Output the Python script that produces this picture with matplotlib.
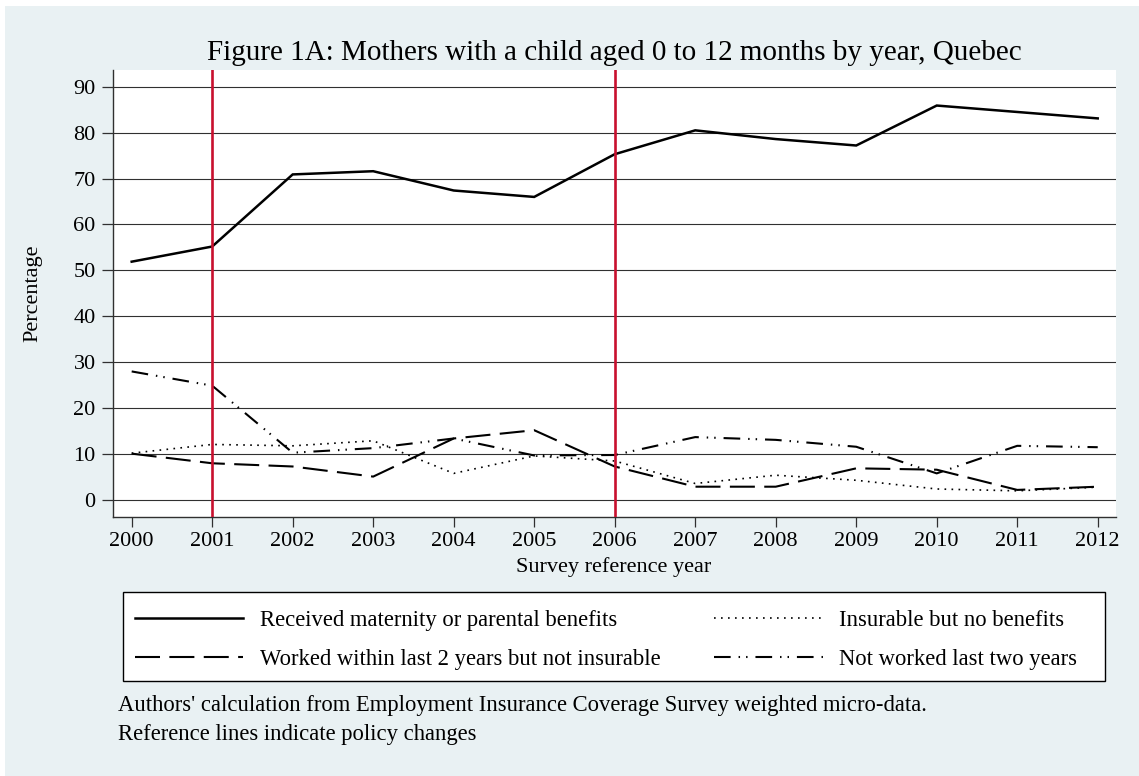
import matplotlib
matplotlib.use("Agg")
import matplotlib.pyplot as plt
from matplotlib.patches import Rectangle

plt.rcParams['font.family'] = ['Liberation Serif', 'DejaVu Serif']

years = [2000, 2001, 2002, 2003, 2004, 2005, 2006, 2007, 2008, 2009, 2010, 2011, 2012]
received = [51.9, 55.2, 70.9, 71.6, 67.4, 66.0, 75.3, 80.5, 78.6, 77.2, 85.9, 84.5, 83.1]
insurable_no_ben = [10.2, 12.1, 11.8, 12.9, 5.8, 9.6, 8.5, 3.6, 5.4, 4.3, 2.4, 2.0, 2.8]
worked_not_ins = [10.1, 8.0, 7.3, 5.1, 13.4, 15.2, 7.3, 2.9, 2.9, 6.9, 6.6, 2.2, 2.9]
not_worked = [28.0, 24.9, 10.3, 11.3, 13.4, 9.7, 9.8, 13.7, 13.1, 11.6, 5.8, 11.8, 11.5]
policy_years = [2001, 2006]

labels = ["Received maternity or parental benefits",
          "Insurable but no benefits",
          "Worked within last 2 years but not insurable",
          "Not worked last two years"]

W, H = 1139, 776
fig = plt.figure(figsize=(W / 100, H / 100), dpi=100, facecolor='white')
fig.patches.append(Rectangle((5 / W, 0), 1 - 5 / W, 1 - 6 / H, transform=fig.transFigure,
                             facecolor='#e9f1f3', edgecolor='none', zorder=-10))

ax = fig.add_axes([113 / W, 1 - 516.5 / H, (1116 - 113) / W, (516.5 - 70) / H])
ax.set_facecolor('white')

for y in range(0, 91, 10):
    ax.axhline(y, color='#303030', lw=0.8, zorder=1)

l1, = ax.plot(years, received, color='black', lw=1.8, zorder=2, solid_joinstyle='miter')
l2, = ax.plot(years, insurable_no_ben, color='black', lw=1.2, zorder=2,
              linestyle=(0, (1.0, 3.2)))
l3, = ax.plot(years, worked_not_ins, color='black', lw=1.5, zorder=2,
              linestyle=(0, (12, 4.5)))
l4, = ax.plot(years, not_worked, color='black', lw=1.5, zorder=2,
              linestyle=(0, (8, 3.8, 0.7, 2.9, 0.7, 3.8)))

for py in policy_years:
    ax.axvline(py, color='#c8102e', lw=1.9, zorder=3)

ax.set_xlim(1999.768, 2012.227)
ax.set_ylim(-3.59, 93.64)
ax.set_xticks(years)
ax.set_yticks(range(0, 91, 10))
ax.tick_params(axis='both', labelsize=16, color='#303030', width=0.9)
ax.tick_params(axis='y', length=8, pad=4.5)
ax.tick_params(axis='x', length=7.5, pad=4)
for s in ['top', 'right']:
    ax.spines[s].set_visible(False)
for s in ['left', 'bottom']:
    ax.spines[s].set_color('#303030')
    ax.spines[s].set_linewidth(1.0)

fig.text(614 / W, 1 - 60 / H, "Figure 1A: Mothers with a child aged 0 to 12 months by year, Quebec",
         ha='center', va='baseline', fontsize=21)
fig.text(614 / W, 1 - 572 / H, "Survey reference year", ha='center', va='baseline', fontsize=16)
fig.text(33 / W, 1 - 293 / H, "Percentage", ha='center', va='center', rotation=90, fontsize=16)

# legend box drawn separately so the columns can sit where the reference has them
fig.patches.append(Rectangle((123 / W, 1 - 681 / H), (1105 - 123) / W, (681 - 592) / H,
                             transform=fig.transFigure, facecolor='white',
                             edgecolor='black', lw=1.0, zorder=1))

# matplotlib fills legend columns first, so interleave to get the reference row order
leg = fig.legend([l1, l3, l2, l4], [labels[0], labels[2], labels[1], labels[3]],
                 ncol=2, loc='upper left', bbox_to_anchor=(121 / W, 1 - 596 / H),
                 fontsize=16.3, handlelength=4.8, handletextpad=0.72,
                 columnspacing=2.38, labelspacing=0.8, borderpad=0.6, borderaxespad=0,
                 frameon=False)

fig.text(118 / W, 1 - 711 / H,
         "Authors' calculation from Employment Insurance Coverage Survey weighted micro-data.",
         ha='left', va='baseline', fontsize=16.3)
fig.text(118 / W, 1 - 740 / H, "Reference lines indicate policy changes",
         ha='left', va='baseline', fontsize=16.3)

fig.savefig("out.png", dpi=100, facecolor=fig.get_facecolor())
